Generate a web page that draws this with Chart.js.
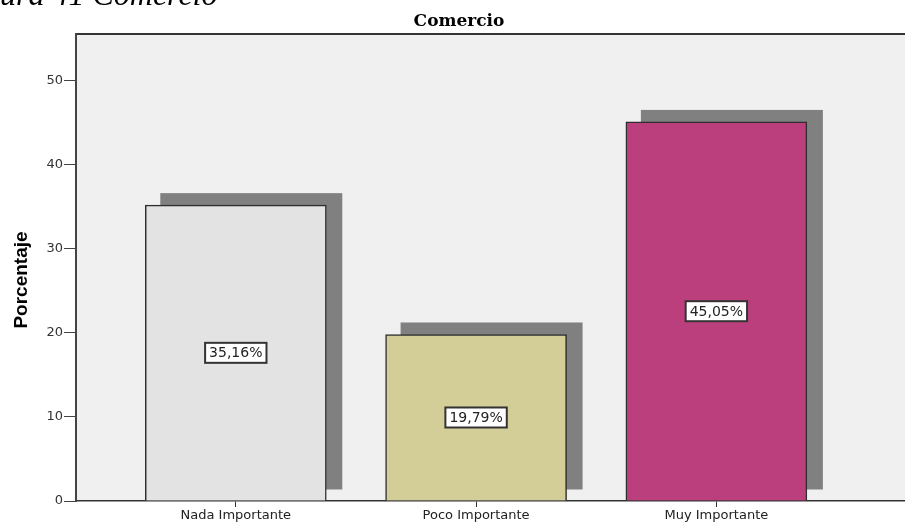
<!DOCTYPE html>
<html>
<head>
<meta charset="utf-8">
<script src="https://cdn.jsdelivr.net/npm/chart.js@4.4.1/dist/chart.umd.min.js"></script>
<style>
  html, body { margin: 0; padding: 0; background: #fff; }
  #wrap { width: 905px; height: 523px; overflow: hidden; }
</style>
</head>
<body>
<div id="wrap"><canvas id="comercioChart" width="905" height="523"></canvas></div>
<script>
const categories = ['Nada Importante', 'Poco Importante', 'Muy Importante'];
const percentages = [35.16, 19.79, 45.05];
const barColors = ['#e3e3e3', '#d3cd97', '#bb3f7d'];
const yTicks = [0, 10, 20, 30, 40, 50];
const chartTitle = 'Comercio';
const figureCaption = 'Figura 41 Comercio';
const yTitle = 'Porcentaje';

// gray "3D" shadow behind each bar, offset up and to the right
const shadowPlugin = {
    id: 'shadows',
    beforeDatasetsDraw(chart) {
        const ctx = chart.ctx;
        const meta = chart.getDatasetMeta(0);
        ctx.save();
        ctx.fillStyle = '#808080';
        meta.data.forEach(el => {
            const p = el.getProps(['x', 'y', 'base', 'width'], true);
            ctx.fillRect(p.x - p.width / 2 + 15, p.y - 12, p.width + 1, (p.base - 11) - (p.y - 12));
        });
        ctx.restore();
    }
};

// plot background + top frame line
const backgroundPlugin = {
    id: 'plotBg',
    beforeDraw(chart) {
        const { ctx, chartArea } = chart;
        ctx.save();
        ctx.fillStyle = '#f0f0f0';
        ctx.fillRect(chartArea.left, chartArea.top, chartArea.right - chartArea.left, chartArea.bottom - chartArea.top);
        ctx.strokeStyle = '#333';
        ctx.lineWidth = 2;
        ctx.beginPath();
        ctx.moveTo(chartArea.left, chartArea.top);
        ctx.lineTo(chartArea.right, chartArea.top);
        ctx.stroke();
        ctx.restore();
    }
};

// boxed percentage labels in the middle of each bar
const valueLabelPlugin = {
    id: 'valueLabels',
    afterDatasetsDraw(chart) {
        const ctx = chart.ctx;
        const meta = chart.getDatasetMeta(0);
        ctx.save();
        ctx.font = '14px "DejaVu Sans"';
        ctx.textAlign = 'center';
        ctx.textBaseline = 'middle';
        meta.data.forEach((el, i) => {
            const p = el.getProps(['x', 'y', 'base'], true);
            const txt = percentages[i].toFixed(2).replace('.', ',') + '%';
            const w = ctx.measureText(txt).width + 8;
            const h = 20;
            const cy = (p.y + p.base) / 2;
            ctx.fillStyle = '#fff';
            ctx.fillRect(p.x - w / 2, cy - h / 2, w, h);
            ctx.strokeStyle = '#333';
            ctx.lineWidth = 2;
            ctx.strokeRect(p.x - w / 2, cy - h / 2, w, h);
            ctx.fillStyle = '#222';
            ctx.fillText(txt, p.x, cy + 1);
        });
        ctx.restore();
    }
};

// title, caption and y axis title
const textPlugin = {
    id: 'texts',
    afterDraw(chart) {
        const ctx = chart.ctx;
        ctx.save();
        ctx.fillStyle = '#000';
        ctx.font = 'italic 32px "Liberation Serif"';
        ctx.textBaseline = 'alphabetic';
        ctx.textAlign = 'left';
        const figW = ctx.measureText('Fig').width;
        ctx.fillText(figureCaption, -figW, 5);

        ctx.font = 'bold 17px "DejaVu Serif"';
        ctx.textAlign = 'center';
        ctx.fillText(chartTitle, 459, 26);

        ctx.translate(21.5, 280);
        ctx.rotate(-Math.PI / 2);
        ctx.font = 'bold 19px "Liberation Sans Narrow", "Liberation Sans"';
        ctx.textBaseline = 'middle';
        ctx.fillText(yTitle, 0, 0);
        ctx.restore();
    }
};

let ctx = document.getElementById('comercioChart').getContext('2d');
let chart = new Chart(ctx, {
    type: 'bar',
    data: {
        datasets: [{
            label: chartTitle,
            data: categories.map((c, i) => ({ x: i, y: percentages[i] })),
            backgroundColor: barColors,
            borderColor: '#2e2e2e',
            borderWidth: 1.5,
            barThickness: 181
        }]
    },
    options: {
        responsive: false,
        animation: false,
        layout: { padding: { top: 34, left: 0, right: 0, bottom: 0 } },
        plugins: {
            legend: { display: false },
            tooltip: { enabled: false },
            title: { display: false }
        },
        scales: {
            x: {
                type: 'linear',
                offset: false,
                min: -0.665,
                max: 2.785,
                afterBuildTicks: scale => { scale.ticks = categories.map((c, i) => ({ value: i })); },
                afterFit: scale => { scale.height = 22; },
                ticks: {
                    callback: v => categories[v],
                    color: '#222',
                    font: { family: 'DejaVu Sans', size: 13 },
                    padding: 1,
                    maxRotation: 0,
                    autoSkip: false
                },
                grid: { offset: false, drawOnChartArea: false, drawTicks: true, tickLength: 6, color: '#333' },
                border: { display: true, color: '#333', width: 1.5 }
            },
            y: {
                min: 0,
                max: 55.5,
                afterBuildTicks: scale => { scale.ticks = yTicks.map(v => ({ value: v })); },
                afterFit: scale => { scale.width = 76; },
                ticks: {
                    color: '#333',
                    font: { family: 'DejaVu Sans', size: 13 },
                    padding: 1
                },
                grid: { drawOnChartArea: false, drawTicks: true, tickLength: 12, color: '#444' },
                border: { display: true, color: '#444', width: 2 }
            }
        }
    },
    plugins: [backgroundPlugin, shadowPlugin, valueLabelPlugin, textPlugin]
});
</script>
</body>
</html>
